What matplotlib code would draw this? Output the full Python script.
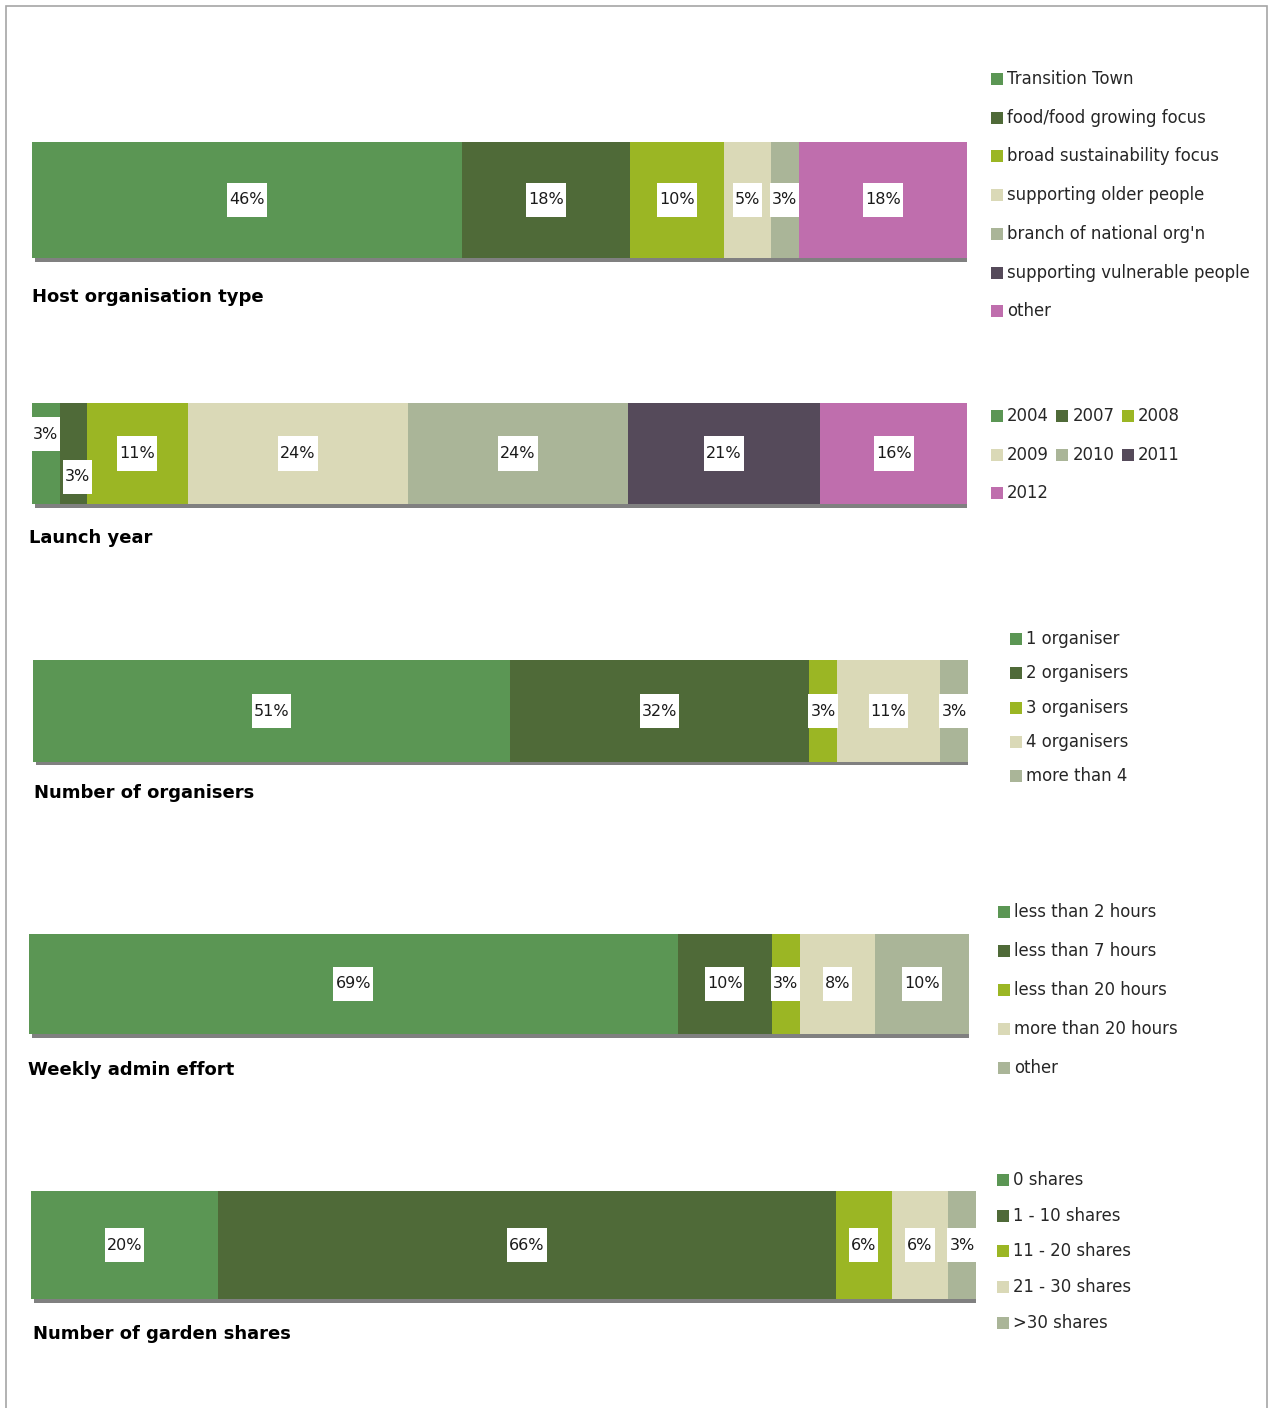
import matplotlib
matplotlib.use("Agg")
import matplotlib.pyplot as plt
from matplotlib.patches import Rectangle
from matplotlib.path import Path
import numpy as np

# ---- data: share of respondents (%) per category ----
host_types = ["Transition Town", "food/food growing focus", "broad sustainability focus",
              "supporting older people", "branch of national org'n",
              "supporting vulnerable people", "other"]
host_pct = [46, 18, 10, 5, 3, 0, 18]

launch_years = ["2004", "2007", "2008", "2009", "2010", "2011", "2012"]
launch_pct = [3, 3, 11, 24, 24, 21, 16]

organisers = ["1 organiser", "2 organisers", "3 organisers", "4 organisers", "more than 4"]
organiser_pct = [51, 32, 3, 11, 3]

admin_effort = ["less than 2 hours", "less than 7 hours", "less than 20 hours",
                "more than 20 hours", "other"]
admin_pct = [69, 10, 3, 8, 10]

garden_shares = ["0 shares", "1 - 10 shares", "11 - 20 shares", "21 - 30 shares", ">30 shares"]
share_pct = [20, 66, 6, 6, 3]

titles = ["Host organisation type", "Launch year", "Number of organisers",
          "Weekly admin effort", "Number of garden shares"]

palette = ["#5B9654", "#4F6A38", "#9BB624", "#DAD9B7", "#AAB598", "#554A5A", "#BF6EAD"]

W, H = 1268, 1408
fig = plt.figure(figsize=(W / 100, H / 100), dpi=100)
fig.patch.set_facecolor("white")

FONT = "DejaVu Sans"


def fx(x):
    return x / W


def fy(y):
    return 1 - y / H


# outer frame
fig.add_artist(Rectangle((fx(6), fy(1440)), fx(1267) - fx(6), fy(6) - fy(1440),
                         transform=fig.transFigure, fill=False,
                         edgecolor="#A6A6A6", linewidth=1.2))


def label_box(x0, y0, width, height, mutation_size):
    # white tag around a value label: narrow sides, taller top/bottom
    px = 0.13 * mutation_size
    py = 0.6 * mutation_size
    x0, y0 = x0 - px, y0 - py
    x1, y1 = x0 + width + 2 * px, y0 + height + 2 * py
    return Path([(x0, y0), (x1, y0), (x1, y1), (x0, y1), (x0, y0)], closed=True)


def stacked_bar(rect, values, title, title_xy, label_pos=None):
    x0, y0, x1, y1 = rect
    wpx, hpx = x1 - x0, y1 - y0
    ax = fig.add_axes([fx(x0), fy(y1), (x1 - x0) / W, (y1 - y0) / H])
    total = sum(values)
    ax.set_xlim(0, total)
    ax.set_ylim(0, 1)
    ax.axis("off")
    # drop shadow under the bar
    ax.add_patch(Rectangle((total * 3 / wpx, -3.5 / hpx), total - total * 3 / wpx, 3.5 / hpx,
                           facecolor="#808080", edgecolor="none", clip_on=False, zorder=1))
    lefts = np.concatenate([[0], np.cumsum(values)[:-1]])
    ax.barh(0.5, values, left=lefts, height=1.0, color=palette[:len(values)],
            edgecolor="none", zorder=2)
    for i, (l, v) in enumerate(zip(lefts, values)):
        if v == 0:
            continue
        dx, yy = (0.0, 0.5) if label_pos is None else label_pos[i]
        ax.text(l + v / 2 + dx, yy, f"{v}%", ha="center", va="center", fontsize=11.5,
                family=FONT, color="#1A1A1A", zorder=4,
                bbox=dict(boxstyle=label_box, facecolor="white", edgecolor="none"))
    fig.text(fx(title_xy[0]), fy(title_xy[1]), title, ha="left", va="center",
             fontsize=13, fontweight="bold", family=FONT, color="black")


def legend(names, positions, colors):
    for name, (sx, ty), col in zip(names, positions, colors):
        fig.add_artist(Rectangle((fx(sx), fy(ty + 6)), 12 / W, 12 / H,
                                 transform=fig.transFigure, facecolor=col, edgecolor="none"))
        fig.text(fx(sx + 16), fy(ty), name, ha="left", va="center", fontsize=11.9,
                 family=FONT, color="#262626")


# 1) host organisation type
stacked_bar((32, 142, 967, 258), host_pct, titles[0], (32, 297))
legend(host_types, [(991, 79 + 38.7 * i) for i in range(7)], palette)

# 2) launch year (first two small labels staggered)
stacked_bar((32, 403, 967, 504), launch_pct, titles[1], (29, 538),
            label_pos=[(0.0, 0.69), (0.45, 0.27)] + [(0.0, 0.5)] * 5)
year_pos = [(991 + 65.3 * (i % 3), 416 + 38.5 * (i // 3)) for i in range(7)]
legend(launch_years, year_pos, palette)

# 3) number of organisers
stacked_bar((33, 660, 968, 762), organiser_pct, titles[2], (34, 793))
legend(organisers, [(1010, 639 + 34.3 * i) for i in range(5)], palette)

# 4) weekly admin effort
stacked_bar((29, 934, 969, 1034), admin_pct, titles[3], (28, 1070))
legend(admin_effort, [(998, 912 + 39 * i) for i in range(5)], palette)

# 5) number of garden shares
stacked_bar((31, 1191, 976, 1299), share_pct, titles[4], (33, 1334))
legend(garden_shares, [(997, 1180 + 35.7 * i) for i in range(5)], palette)

fig.savefig("out.png", dpi=100, facecolor="white")
